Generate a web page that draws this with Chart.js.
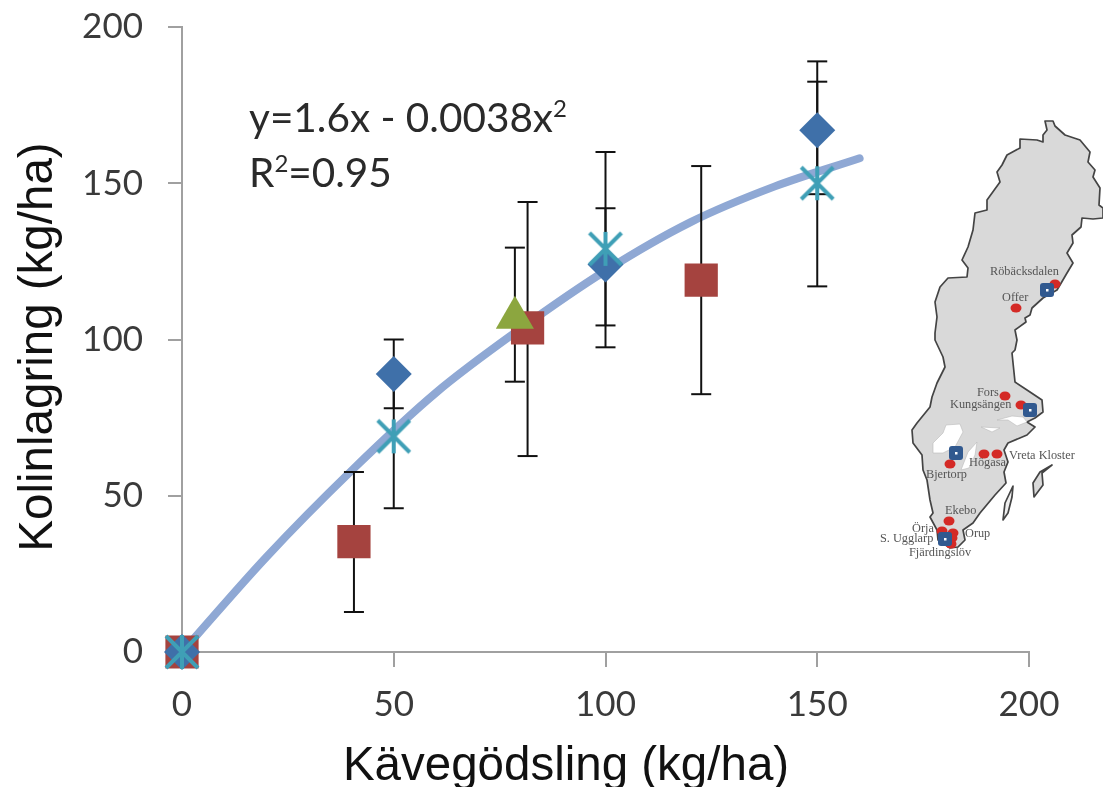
<!DOCTYPE html>
<html lang="sv">
<head>
<meta charset="utf-8">
<title>Kolinlagring</title>
<script src="https://cdn.jsdelivr.net/npm/chart.js@4/dist/chart.umd.min.js"></script>
<style>
  html, body { margin: 0; padding: 0; background: #fff; overflow: hidden; }
  #wrap { position: relative; width: 1103px; height: 787px; }
  #wrap canvas, #wrap svg { position: absolute; left: 0; top: 0; }
</style>
</head>
<body>
<div id="wrap">
  <canvas id="chart" width="1103" height="787"></canvas>
  <svg width="1103" height="787" viewBox="0 0 1103 787">
    <!-- texts around the chart -->
    <g font-family="Liberation Sans" font-size="47.5" fill="#111">
      <text x="566" y="780" text-anchor="middle">Kävegödsling (kg/ha)</text>
      <text transform="translate(52 347) rotate(-90)" text-anchor="middle">Kolinlagring (kg/ha)</text>
    </g>
    <g font-family="Lato" font-size="40.5" fill="#2a2a2a">
      <text x="249" y="132">y=1.6x - 0.0038x<tspan font-size="24" dy="-15">2</tspan></text>
      <text x="249" y="187">R<tspan font-size="24" dy="-15">2</tspan><tspan dy="15">=0.95</tspan></text>
    </g>
    <!-- inset map -->
    <g stroke="#444" stroke-width="1.7" stroke-linejoin="round">
      <polygon fill="#d9d9d9" points="1045,121 1053,121 1055,126 1065,135 1080,140 1090,152 1088,162 1095,170 1093,177 1100,188 1099,205 1103,208 1103,218 1093,219 1082,218 1081,227 1072,235 1073,243 1067,253 1073,263 1067,273 1060,285 1057,290 1043,298 1032,308 1030,315 1025,318 1026,322 1015,330 1017,340 1015,350 1012,353 1015,382 1027,390 1042,400 1043,412 1035,418 1027,422 1035,427 1027,435 1008,443 1004,450 1008,462 1004,472 1006,483 995,495 980,513 973,523 963,530 965,540 958,547 950,548 938,540 937,530 930,517 933,513 930,500 927,480 923,470 922,455 913,443 912,430 917,423 930,407 932,397 937,383 945,367 943,357 935,340 935,333 937,317 935,302 940,287 948,278 967,277 968,268 962,260 968,247 973,230 975,213 987,210 987,200 1000,182 997,172 1002,165 1007,155 1020,148 1020,139 1037,140 1043,142 1043,135 1047,130"/>
      <polygon fill="#d9d9d9" points="1052,465 1040,472 1033,483 1034,497 1043,485 1042,473"/>
      <polygon fill="#efefef" points="1013,486 1005,503 1003,520 1008,513 1012,497"/>
    </g>
    <g fill="#fff" stroke="#bbb" stroke-width="0.6">
      <polygon points="933,443 943,433 946,425 960,424 963,432 955,447 943,453 933,453"/>
      <polygon points="977,442 968,452 961,470 969,468 975,455"/>
      <polygon points="997,420 1012,416 1023,417 1027,422 1017,426 1008,420"/>
      <polygon points="981,427 1000,428 992,432"/>
    </g>
    <g fill="#d42a26">
      <ellipse cx="1055" cy="284" rx="5.5" ry="4.5"/>
      <ellipse cx="1016" cy="308" rx="5.5" ry="4.5"/>
      <ellipse cx="1005" cy="396" rx="5.5" ry="4.5"/>
      <ellipse cx="1021" cy="405" rx="5.5" ry="4.5"/>
      <ellipse cx="984" cy="454" rx="5.5" ry="4.5"/>
      <ellipse cx="997" cy="454" rx="5.5" ry="4.5"/>
      <ellipse cx="950" cy="464" rx="5.5" ry="4.5"/>
      <ellipse cx="949" cy="521" rx="5.5" ry="4.5"/>
      <ellipse cx="942" cy="531" rx="5.5" ry="4.5"/>
      <ellipse cx="953" cy="533" rx="5.5" ry="4.5"/>
      <ellipse cx="952" cy="538" rx="5.5" ry="4.5"/>
      <ellipse cx="951" cy="544" rx="5.5" ry="4.5"/>
    </g>
    <g fill="#31598f">
      <rect x="1040" y="283" width="14" height="14" rx="3"/>
      <rect x="1023" y="403" width="14" height="14" rx="3"/>
      <rect x="949" y="446" width="14" height="14" rx="3"/>
      <rect x="938" y="532" width="14" height="14" rx="3"/>
    </g>
    <g fill="#fff">
      <rect x="1046" y="289" width="2.5" height="2.5"/>
      <rect x="1029" y="409" width="2.5" height="2.5"/>
      <rect x="955" y="452" width="2.5" height="2.5"/>
      <rect x="944" y="538" width="2.5" height="2.5"/>
    </g>
    <g font-family="Liberation Serif" font-size="12.3" fill="#555">
      <text x="990" y="275">Röbäcksdalen</text>
      <text x="1002" y="301">Offer</text>
      <text x="977" y="396">Fors</text>
      <text x="950" y="408">Kungsängen</text>
      <text x="1009" y="459">Vreta Kloster</text>
      <text x="969" y="466">Högasa</text>
      <text x="926" y="478">Bjertorp</text>
      <text x="945" y="514">Ekebo</text>
      <text x="912" y="532">Örja</text>
      <text x="965" y="537">Orup</text>
      <text x="880" y="542">S. Ugglarp</text>
      <text x="909" y="556">Fjärdingslöv</text>
    </g>
  </svg>
</div>
<script>
// Kvävegödsling vs kolinlagring
const xTicks = [0, 50, 100, 150, 200];
const yTicks = [0, 50, 100, 150, 200];

const curveX = [0, 20, 40, 60, 80, 100, 120, 140, 160];
const curveY = [0, 30.5, 58, 83, 103.5, 122, 137.5, 149, 158];

const diamondX = [0, 50, 100, 150];
const diamondY = [0, 89, 124, 167];
const diamondHigh = [0, 100, 142, 182.5];
const diamondLow = [0, 78, 104.5, 146.5];

const squareX = [0, 40.6, 81.6, 122.6];
const squareY = [0, 35.3, 103.7, 119];
const squareHigh = [0, 57.6, 144, 155.5];
const squareLow = [0, 12.8, 62.7, 82.5];

const triangleX = [78.6];
const triangleY = [107];
const triangleHigh = [129.4];
const triangleLow = [86.5];

const starX = [0, 50, 100, 150];
const starY = [0, 69, 129, 150];
const starHigh = [0, 89, 160, 189];
const starLow = [0, 46, 97.5, 117];

// x with a vertical line through it, chart.js "star" also has a horizontal one
const makeStar = () => {
  const c = document.createElement('canvas');
  c.width = 38;
  c.height = 38;
  const g = c.getContext('2d');
  g.strokeStyle = '#3f9fb6';
  g.lineWidth = 4;
  g.beginPath();
  g.moveTo(3, 3); g.lineTo(35, 35);
  g.moveTo(35, 3); g.lineTo(3, 35);
  g.moveTo(19, 2); g.lineTo(19, 36);
  g.stroke();
  return c;
};

const toPoints = (xs, ys) => xs.map((x, i) => ({ x, y: ys[i] }));

// one small line dataset per error bar, the caps are 'line' points
const errorBars = (xs, highs, lows) => xs
  .map((x, i) => ({
    type: 'scatter',
    showLine: true,
    data: [{ x, y: lows[i] }, { x, y: highs[i] }],
    borderColor: '#111',
    borderWidth: 2,
    pointStyle: 'line',
    pointRadius: 10,
    pointBorderColor: '#111',
    pointBorderWidth: 2,
    order: 5,
    clip: false,
  }))
  .filter((d) => d.data[0].y !== d.data[1].y);

const markers = (xs, ys, style, radius, color, order) => ({
  type: 'scatter',
  data: toPoints(xs, ys),
  pointStyle: style,
  pointRadius: radius,
  pointBackgroundColor: color,
  pointBorderColor: color,
  pointBorderWidth: 0,
  order,
  clip: false,
});

new Chart(document.querySelector('#chart').getContext('2d'), {
  type: 'scatter',
  data: {
    datasets: [
      {
        type: 'line',
        data: toPoints(curveX, curveY),
        borderColor: '#8fa8d4',
        borderWidth: 8,
        borderCapStyle: 'round',
        cubicInterpolationMode: 'monotone',
        pointRadius: 0,
        order: 6,
        clip: false,
      },
      ...errorBars(diamondX, diamondHigh, diamondLow),
      ...errorBars(squareX, squareHigh, squareLow),
      ...errorBars(triangleX, triangleHigh, triangleLow),
      ...errorBars(starX, starHigh, starLow),
      markers(squareX, squareY, 'rect', 23.5, '#a5433f', 4),
      markers(triangleX, triangleY, 'triangle', 22, '#8ca63f', 3),
      markers(diamondX, diamondY, 'rectRot', 18, '#3f70a9', 2),
      markers(starX, starY, makeStar(), 19, '#3f9fb6', 1),
    ],
  },
  options: {
    responsive: false,
    animation: false,
    layout: { autoPadding: false, padding: { top: 27, right: 74 } },
    plugins: { legend: { display: false }, tooltip: { enabled: false } },
    scales: {
      x: {
        type: 'linear',
        min: 0,
        max: 200,
        afterBuildTicks: (axis) => { axis.ticks = xTicks.map((value) => ({ value })); },
        afterFit: (axis) => { axis.height = 135; },
        border: { color: '#a0a0a0', width: 2 },
        grid: { drawOnChartArea: false, color: '#a0a0a0', lineWidth: 2, tickLength: 15 },
        ticks: { color: '#3a3a3a', font: { family: 'Lato', size: 35 }, padding: 17, maxRotation: 0 },
      },
      y: {
        type: 'linear',
        min: 0,
        max: 200,
        afterBuildTicks: (axis) => { axis.ticks = yTicks.map((value) => ({ value })); },
        afterFit: (axis) => { axis.width = 182; axis.paddingTop = 0; axis.paddingBottom = 0; },
        border: { color: '#a0a0a0', width: 2 },
        grid: { drawOnChartArea: false, color: '#a0a0a0', lineWidth: 2, tickLength: 14 },
        ticks: { color: '#3a3a3a', font: { family: 'Lato', size: 35 }, padding: 25 },
      },
    },
  },
});
</script>
</body>
</html>
